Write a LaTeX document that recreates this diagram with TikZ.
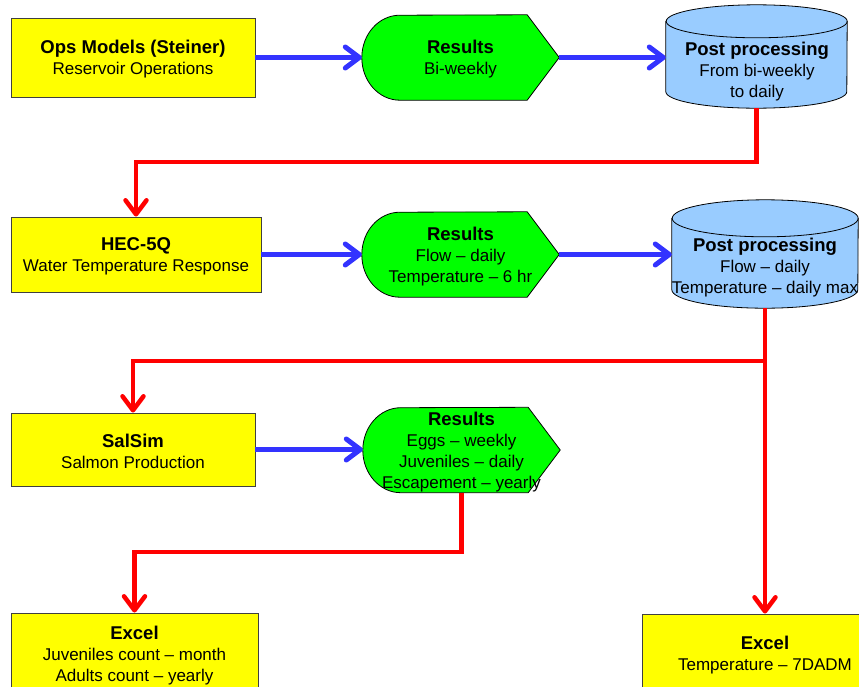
\documentclass[tikz,border=0pt]{standalone}
\usepackage{fontspec}
\setmainfont{Liberation Sans}
\usetikzlibrary{arrows.meta,backgrounds}
\definecolor{mygreen}{HTML}{00FF00}
\definecolor{myyellow}{HTML}{FFFF00}
\definecolor{mylightblue}{HTML}{99CCFF}
\definecolor{myblue}{HTML}{3333FF}
\definecolor{myred}{HTML}{FF0000}
\tikzset{
  basetext/.style={font=\fontsize{17}{21}\selectfont, align=center, inner sep=0pt},
  yellowbox/.style={basetext, rectangle, draw=black!75, line width=0.9pt, fill=myyellow},
  resultsbox/.style={basetext, minimum width=197pt, minimum height=85pt},
  cylbox/.style={basetext},
  arrowtip/.style={-{Straight Barb[length=14pt,width=21pt,round]}},
  bluearrow/.style={draw=myblue, line width=5pt, arrowtip},
  redarrow/.style={draw=myred, line width=4.5pt, line join=miter, arrowtip},
  redline/.style={draw=myred, line width=4.5pt, line join=miter},
  outline/.style={draw=black, line width=0.8pt}
}
\newcommand{\ttl}[1]{\rule{0pt}{17.5pt}{\fontsize{18.5}{21}\selectfont\bfseries #1}}
\newcommand{\resultsoutline}[1]{%
  \path[outline, fill=mygreen] ([xshift=-32pt]#1.north east) -- (#1.east) -- ([xshift=-32pt]#1.south east)
    -- ([xshift=38pt]#1.south west) arc[start angle=270, end angle=90, x radius=38pt, y radius=42.5pt] -- cycle;}
\newcommand{\cyloutline}[3]{%
  \path[outline, fill=mylightblue] ([yshift=-#3]#1.north west) -- ([yshift=#3]#1.south west)
    arc[start angle=180, end angle=360, x radius=#2, y radius=#3]
    -- ([yshift=-#3]#1.north east)
    arc[start angle=0, end angle=180, x radius=#2, y radius=#3] -- cycle;
  \path[outline] ([yshift=-#3]#1.north east) arc[start angle=0, end angle=-180, x radius=#2, y radius=#3];}
\begin{document}
\begin{tikzpicture}[x=1pt, y=-1pt]
\useasboundingbox (0,0) rectangle (859,686);
\clip (0,0) rectangle (859,686);

% row 1
\node[yellowbox, minimum width=244pt, minimum height=79pt] (b1) at (133,57.5)
  {\ttl{Ops Models (Steiner)}\\Reservoir Operations};
\node[resultsbox] (r1) at (460.5,57.5) {\ttl{Results}\\Bi-weekly};
\node[cylbox, minimum width=181pt, minimum height=103pt] (c1) at (756.5,56.5) {};
\node[basetext] (c1t) at (757,70) {\ttl{Post processing}\\From bi-weekly\\to daily};

% row 2
\node[yellowbox, minimum width=250pt, minimum height=75pt] (b2) at (136,254.5)
  {\ttl{HEC-5Q}\\Water Temperature Response};
\node[resultsbox] (r2) at (460.5,254.5) {\ttl{Results}\\Flow -- daily\\Temperature -- 6 hr};
\node[cylbox, minimum width=186pt, minimum height=108pt] (c2) at (765,254) {};
\node[basetext] (c2t) at (765,266) {\ttl{Post processing}\\Flow -- daily\\Temperature -- daily max};

% row 3
\node[yellowbox, minimum width=244pt, minimum height=73pt] (b3) at (133,449.5)
  {\ttl{SalSim}\\Salmon Production};
\node[resultsbox] (r3) at (461.5,450) {\ttl{Results}\\Eggs -- weekly\\Juveniles -- daily\\Escapement -- yearly};

% row 4
\node[yellowbox, minimum width=247pt, minimum height=80.4pt] (e1) at (134.5,653.2)
  {\ttl{Excel}\\Juveniles count -- month\\Adults count -- yearly};
\node[yellowbox, minimum width=246pt, minimum height=77.4pt] (e2) at (765,652.7)
  {\ttl{Excel}\\Temperature -- 7DADM};

\begin{scope}[on background layer]
  \resultsoutline{r1}
  \resultsoutline{r2}
  \resultsoutline{r3}
  \cyloutline{c1}{90.5pt}{16.5pt}
  \cyloutline{c2}{93pt}{18.5pt}
\end{scope}

% blue connectors
\draw[bluearrow] (b1.east) -- (r1.west);
\draw[bluearrow] (r1.east) -- (r1.east -| c1.west);
\draw[bluearrow] (b2.east) -- (b2.east -| r2.west);
\draw[bluearrow] (r2.east) -- (r2.east -| c2.west);
\draw[bluearrow] (b3.east) -- (b3.east -| r3.west);

% red connectors
\coordinate (k1) at (756.5,162);
\draw[redarrow] (c1.south) -- (k1) -| (b2.north);
\coordinate (k2) at (765,361);
\draw[redarrow] (c2.south) -- (k2) -| (b3.north);
\draw[redarrow] (k2) -- (e2.north);
\coordinate (k3) at (461.5,552);
\draw[redarrow] (r3.south) -- (k3) -| (e1.north);
\end{tikzpicture}
\end{document}
